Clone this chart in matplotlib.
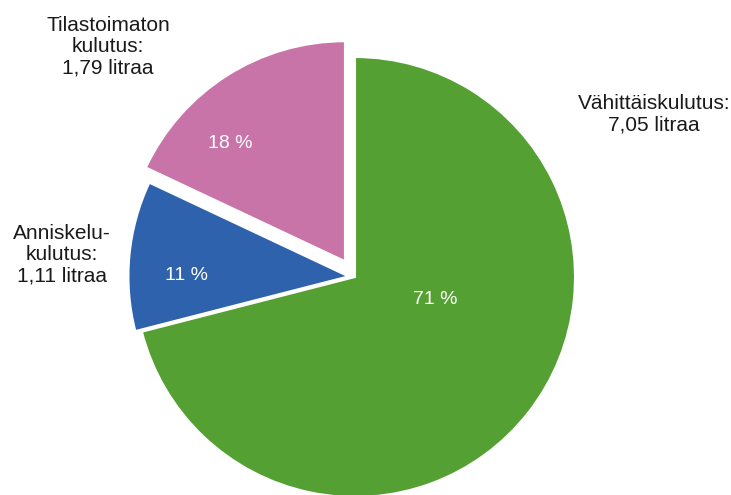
import matplotlib.pyplot as plt

# kulutus litroina ja osuudet
nimet = ['Vähittäiskulutus:\n7,05 litraa', 'Anniskelu-\nkulutus:\n1,11 litraa',
         'Tilastoimaton\nkulutus:\n1,79 litraa']
osuudet = [71, 11, 18]
varit = ['#55A032', '#2E62AC', '#C874A8']
irrotus = [0, 0.03, 0.085]

fig = plt.figure(figsize=(7.31, 4.95), dpi=100)
ax = fig.add_axes([0, 0, 1, 1])

# keskipiste ja säde pikseleinä -> data
cx, cy, r = 355, 277, 220
def px(x, y):
    return (x - cx) / r, (cy - y) / r

wedges, texts, pct = ax.pie(osuudet, colors=varit, startangle=90, counterclock=False,
                            explode=irrotus, autopct=lambda p: '%d %%' % round(p),
                            wedgeprops=dict(edgecolor='white', linewidth=1.5),
                            textprops=dict(color='white', fontsize=14, family='Liberation Sans'))

pct_paikat = [px(435, 300), px(186, 275), px(230, 143)]
for t, p in zip(pct, pct_paikat):
    t.set_position(p)
    t.set_ha('center')
    t.set_va('center')

nimi_paikat = [px(654, 114), px(62, 255), px(108, 47)]
for n, p in zip(nimet, nimi_paikat):
    ax.text(p[0], p[1], n, ha='center', va='center', fontsize=15,
            family='Liberation Sans', color='#1a1a1a', linespacing=1.15)

ax.set_xlim(-cx / r, (731 - cx) / r)
ax.set_ylim(-(495 - cy) / r, cy / r)
ax.set_aspect('equal')
ax.axis('off')

plt.savefig('out.png')
